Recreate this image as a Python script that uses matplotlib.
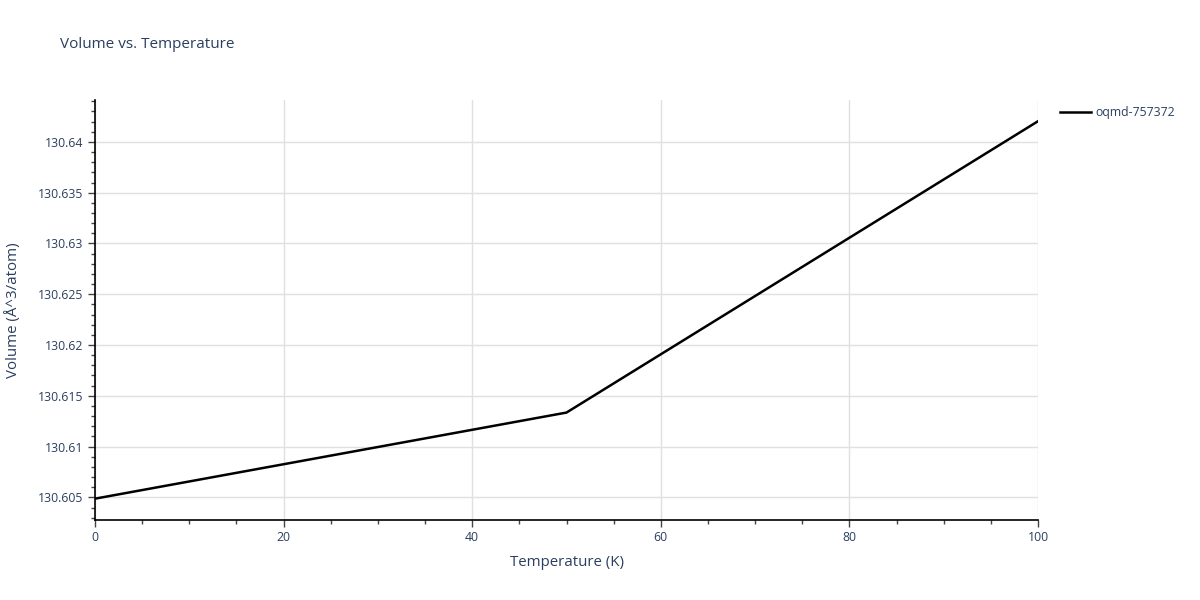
import matplotlib
matplotlib.use("Agg")
import matplotlib.pyplot as plt
from matplotlib.ticker import MultipleLocator

temperature = [0, 50, 100]
volume = [130.60487, 130.61335, 130.64204]
series_name = "oqmd-757372"

text_color = "#2a3f5f"
plt.rcParams["font.family"] = ["Open Sans", "DejaVu Sans"]

fig = plt.figure(figsize=(12, 6), dpi=100)
ax = fig.add_axes([95 / 1200, 80 / 600, 943 / 1200, 420 / 600])

ax.plot(temperature, volume, color="black", linewidth=1.8, label=series_name)

ax.set_xlim(0, 100)
ax.set_ylim(130.60277, 130.64413)

ax.xaxis.set_major_locator(MultipleLocator(20))
ax.xaxis.set_minor_locator(MultipleLocator(5))
ax.yaxis.set_major_locator(MultipleLocator(0.005))
ax.yaxis.set_minor_locator(MultipleLocator(0.001))
ax.yaxis.set_major_formatter(plt.FuncFormatter(lambda v, p: ("%.3f" % v).rstrip("0").rstrip(".")))

ax.grid(True, which="major", color="#e0e0e0", linewidth=1)
ax.set_axisbelow(True)
for side in ["top", "right"]:
    ax.spines[side].set_visible(False)
for side in ["left", "bottom"]:
    ax.spines[side].set_color("black")
    ax.spines[side].set_linewidth(1.2)

ax.tick_params(which="both", direction="out", color="#444444", labelcolor=text_color, labelsize=8.8)
ax.tick_params(which="major", length=5, width=1)
ax.tick_params(which="minor", length=3, width=1)
ax.tick_params(axis="x", pad=3)

ax.set_xlabel("Temperature (K)", color=text_color, fontsize=10.8, labelpad=8)
ax.set_ylabel("Volume (Å^3/atom)", color=text_color, fontsize=10.8, labelpad=12)

fig.text(60 / 1200, 1 - 45 / 600, "Volume vs. Temperature", color=text_color,
         fontsize=11, va="center", ha="left")

leg = ax.legend(loc="upper left", bbox_to_anchor=(1.017, 1.0), frameon=False,
                fontsize=8.8, handlelength=2.5, handletextpad=0.4, borderaxespad=0.1)
for t in leg.get_texts():
    t.set_color(text_color)

fig.savefig("out.png", dpi=100)
